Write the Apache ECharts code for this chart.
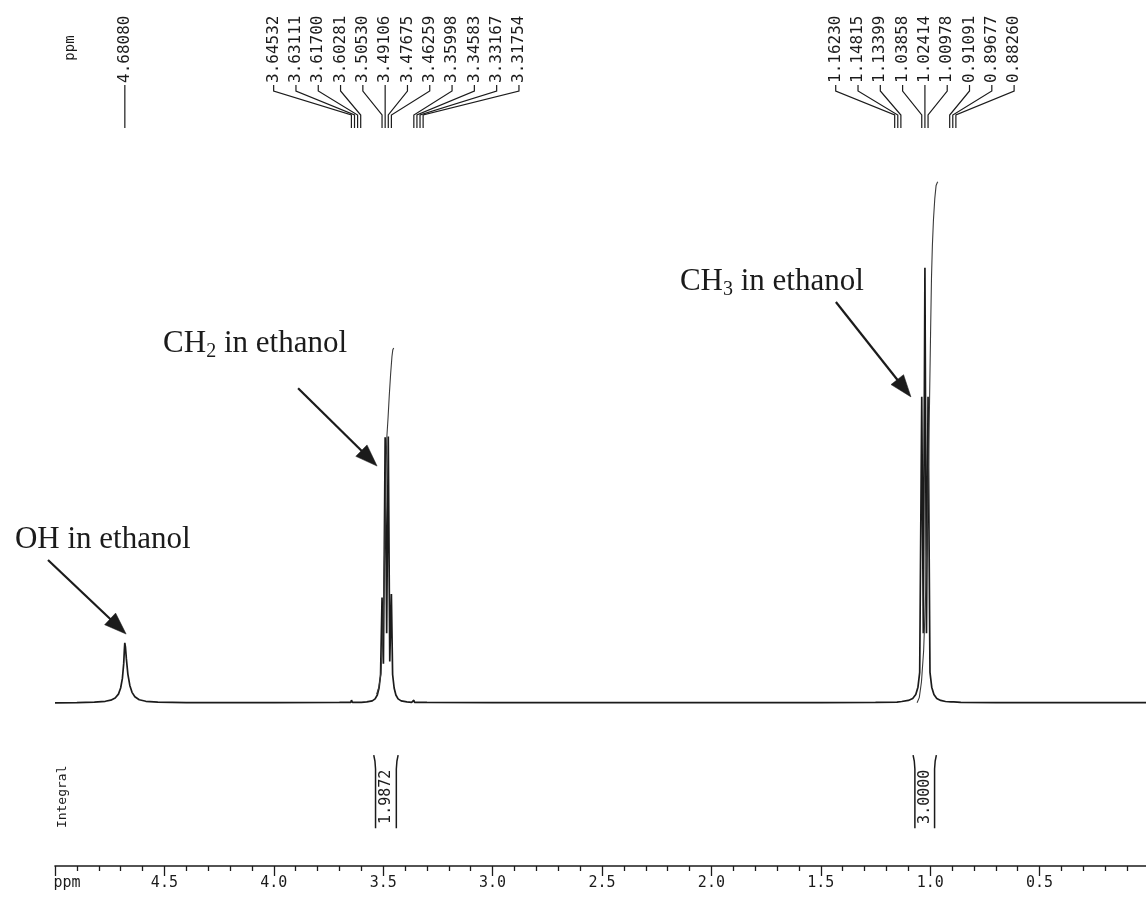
<!DOCTYPE html>
<html>
<head>
<meta charset="utf-8">
<title>1H NMR spectrum of ethanol</title>
<script src="https://cdn.jsdelivr.net/npm/echarts@6/dist/echarts.min.js"></script>
<style>
  html, body { margin: 0; padding: 0; background: #ffffff; }
  #chart { width: 1146px; height: 902px; }
</style>
</head>
<body>
<div id="chart"></div>
<script>
// ---- Spectrum trace: [chemical shift (ppm), intensity] ----
const spectrum = [
  [5.000, 0.00], [4.900, 0.05], [4.820, 0.15], [4.770, 0.35], [4.745, 0.60],
  [4.725, 1.10], [4.710, 2.00], [4.700, 3.40], [4.692, 5.60], [4.686, 9.00],
  [4.683, 12.2], [4.681, 13.8], [4.678, 12.8], [4.674, 10.2], [4.667, 6.60],
  [4.658, 4.00], [4.648, 2.40], [4.635, 1.40], [4.615, 0.70], [4.585, 0.35],
  [4.530, 0.15], [4.400, 0.05], [4.000, 0.05], [3.700, 0.08],
  [3.648, 0.12], [3.645, 0.60], [3.641, 0.12], [3.600, 0.12],
  [3.575, 0.20], [3.550, 0.45], [3.537, 0.90], [3.527, 1.80], [3.519, 3.40],
  [3.512, 6.50], [3.5053, 24.2], [3.499, 9.00], [3.4911, 61.0], [3.4841, 16.0],
  [3.4768, 61.2], [3.4700, 9.50], [3.4626, 25.0], [3.457, 6.50], [3.450, 3.40],
  [3.442, 1.80], [3.432, 0.90], [3.418, 0.45], [3.392, 0.20],
  [3.370, 0.12], [3.3625, 0.12], [3.360, 0.60], [3.357, 0.12], [3.300, 0.08],
  [3.000, 0.05], [2.500, 0.05], [2.000, 0.05], [1.500, 0.05], [1.250, 0.10],
  [1.152, 0.15], [1.148, 0.50], [1.144, 0.18],
  [1.130, 0.30], [1.100, 0.55], [1.080, 1.00], [1.066, 1.90], [1.056, 3.60],
  [1.048, 7.00], [1.0386, 70.3], [1.0315, 16.0], [1.0241, 100], [1.0170, 16.0],
  [1.0098, 70.3], [1.0010, 7.00], [0.993, 3.60], [0.983, 1.90], [0.970, 1.00],
  [0.952, 0.55], [0.930, 0.30], [0.905, 0.20], [0.8975, 0.60], [0.893, 0.20],
  [0.860, 0.10], [0.700, 0.05], [0.300, 0.05], [0.000, 0.05]
];

// ---- Peak picking labels ----
const ohPeakLabels  = ['4.68080'];
const ch2PeakLabels = ['3.64532', '3.63111', '3.61700', '3.60281', '3.50530', '3.49106',
                       '3.47675', '3.46259', '3.35998', '3.34583', '3.33167', '3.31754'];
const ch3PeakLabels = ['1.16230', '1.14815', '1.13399', '1.03858', '1.02414', '1.00978',
                       '0.91091', '0.89677', '0.88260'];

// ---- Integrals ----
const integralValues  = [1.9872, 3.0000];
const integralRegions = [[3.535, 3.440], [1.070, 0.980]];
const integralOffsets = [2.0, 0.0];
// running fraction of each integral vs. shift
const ch2IntegralShape = [
  [3.530, 0.00], [3.520, 0.02], [3.510, 0.06], [3.503, 0.15], [3.497, 0.30],
  [3.491, 0.50], [3.487, 0.64], [3.484, 0.74], [3.478, 0.80], [3.472, 0.87],
  [3.466, 0.93], [3.460, 0.98], [3.456, 1.00], [3.452, 1.005]
];
const ch3IntegralShape = [
  [1.060, 0.00], [1.050, 0.01], [1.040, 0.04], [1.030, 0.10], [1.020, 0.22],
  [1.010, 0.40], [1.003, 0.58], [0.998, 0.72], [0.994, 0.82], [0.990, 0.88],
  [0.985, 0.93], [0.979, 0.97], [0.973, 0.995], [0.968, 1.00], [0.965, 1.002]
];

// ---- Axis tick labels ----
const tickValues = [5.0, 4.5, 4.0, 3.5, 3.0, 2.5, 2.0, 1.5, 1.0, 0.5, 0.0];
const tickLabels = ['ppm', '4.5', '4.0', '3.5', '3.0', '2.5', '2.0', '1.5', '1.0', '0.5', ''];

// ---- Annotations: text anchor (left edge, middle) and arrow tail/tip ----
const annotationTexts = [
  { text: '{m|OH in ethanol}',      at: [5.183, 37.4] },
  { text: '{m|CH}{s|2}{m| in ethanol}', at: [4.506, 82.5] },
  { text: '{m|CH}{s|3}{m| in ethanol}', at: [2.144, 96.7] }
];
const annotationArrows = [
  { from: [5.032, 32.8], to: [4.675, 15.8] },
  { from: [3.889, 72.3], to: [3.528, 54.4] },
  { from: [1.431, 92.1], to: [1.088, 70.3] }
];

// ---- Drawing ----
const INK = '#1b1b1b';
const MONO = '"DejaVu Sans Mono", monospace';
const SERIF = '"Liberation Serif", "Times New Roman", serif';
const INTEGRAL_SCALE = 39.83;   // intensity units per integral unit

function integralCurve(shape, value, offset) {
  return shape.map(p => [p[0], offset + p[1] * value * INTEGRAL_SCALE]);
}

const chart = echarts.init(document.getElementById('chart'), null, { renderer: 'canvas' });

const option = {
  backgroundColor: '#ffffff',
  animation: false,
  grid: { left: 55, width: 1094, top: 0, bottom: 36, containLabel: false, outerBoundsMode: 'none' },
  xAxis: {
    type: 'value',
    min: 0, max: 5, interval: 0.5,
    inverse: true,
    splitLine: { show: false },
    axisLine: { show: true, onZero: false, lineStyle: { color: INK, width: 1.6 } },
    axisTick: { show: true, length: 10, lineStyle: { color: INK, width: 1.3 } },
    minorTick: { show: true, splitNumber: 5, length: 5, lineStyle: { color: INK, width: 1.3 } },
    minorSplitLine: { show: false },
    axisLabel: {
      show: true,
      margin: 10,
      color: INK,
      fontFamily: MONO,
      fontSize: 15,
      showMinLabel: true,
      showMaxLabel: true,
      formatter: function (v) {
        const i = tickValues.findIndex(t => Math.abs(t - v) < 1e-6);
        if (i < 0) return '';
        return i === 0 ? '{p|' + tickLabels[i] + '}' : tickLabels[i];
      },
      rich: { p: { fontFamily: MONO, fontSize: 15, color: INK, padding: [0, 0, 0, 24] } }
    }
  },
  yAxis: { type: 'value', min: -37.5, max: 161.5, show: false, splitLine: { show: false } },
  series: [
    {
      name: 'spectrum', type: 'line', data: spectrum, showSymbol: false, symbol: 'none',
      lineStyle: { color: INK, width: 1.7 }, z: 3
    },
    {
      name: 'integral CH2', type: 'line',
      data: integralCurve(ch2IntegralShape, integralValues[0], integralOffsets[0]),
      showSymbol: false, symbol: 'none', smooth: false,
      lineStyle: { color: '#3a3a3a', width: 1.1 }, z: 4
    },
    {
      name: 'integral CH3', type: 'line',
      data: integralCurve(ch3IntegralShape, integralValues[1], integralOffsets[1]),
      showSymbol: false, symbol: 'none', smooth: false,
      lineStyle: { color: '#3a3a3a', width: 1.1 }, z: 4
    }
  ]
};
chart.setOption(option);

// ---- Decorations placed through the axes' pixel conversion ----
const P = (ppm, v) => chart.convertToPixel({ gridIndex: 0 }, [ppm, v]);
const g = [];

// peak labels along the top with leader lines down to each peak's shift
const LABEL_STEP = 22.3, LABEL_FOOT = 83, BEND_Y = 91, JOIN_Y = 115, LEADER_END = 128;
function peakGroup(labels, anchorIndex) {
  const shifts = labels.map(parseFloat);
  const ax = P(shifts[anchorIndex], 0)[0];
  labels.forEach((t, i) => {
    const lx = ax + (i - anchorIndex) * LABEL_STEP;
    const px = P(shifts[i], 0)[0];
    g.push({
      type: 'text', x: lx, y: LABEL_FOOT, rotation: Math.PI / 2, silent: true, z: 50,
      style: { text: t, font: '16px ' + MONO, fill: INK, align: 'left', verticalAlign: 'middle',
               textAlign: 'left', textVerticalAlign: 'middle' }
    });
    g.push({
      type: 'polyline', silent: true, z: 50,
      shape: { points: [[lx, LABEL_FOOT + 2], [lx, BEND_Y], [px, JOIN_Y], [px, LEADER_END]] },
      style: { stroke: INK, lineWidth: 1.2, fill: null }
    });
  });
}
peakGroup(ohPeakLabels, 0);
peakGroup(ch2PeakLabels, 5);
peakGroup(ch3PeakLabels, 4);

// rotated unit label at the top-left
g.push({
  type: 'text', x: 70, y: 48, rotation: Math.PI / 2, silent: true, z: 50,
  style: { text: 'ppm', font: '14px ' + MONO, fill: INK, align: 'center', verticalAlign: 'middle',
           textAlign: 'center', textVerticalAlign: 'middle' }
});

// integral strip
const BRACKET_TOP = -12.0, BRACKET_BOTTOM = -28.8, BRACKET_LABEL = -21.6;
g.push({
  type: 'text', x: 63, y: P(5, BRACKET_LABEL)[1], rotation: Math.PI / 2, silent: true, z: 50,
  style: { text: 'Integral', font: '13px ' + MONO, fill: INK, align: 'center', verticalAlign: 'middle',
           textAlign: 'center', textVerticalAlign: 'middle' }
});
integralRegions.forEach((r, i) => {
  const top = P(r[0], BRACKET_TOP), bot = P(r[0], BRACKET_BOTTOM);
  const xl = P(r[0], 0)[0], xr = P(r[1], 0)[0];
  g.push({
    type: 'polyline', silent: true, z: 50,
    shape: { points: [[xl - 1.8, top[1]], [xl - 0.6, top[1] + 6], [xl, top[1] + 14], [xl, bot[1]]] },
    style: { stroke: INK, lineWidth: 1.5, fill: null }
  });
  g.push({
    type: 'polyline', silent: true, z: 50,
    shape: { points: [[xr + 1.8, top[1]], [xr + 0.6, top[1] + 6], [xr, top[1] + 14], [xr, bot[1]]] },
    style: { stroke: INK, lineWidth: 1.5, fill: null }
  });
  const lp = P((r[0] + r[1]) / 2, BRACKET_LABEL);
  g.push({
    type: 'text', x: lp[0], y: lp[1], rotation: Math.PI / 2, silent: true, z: 50,
    style: { text: integralValues[i].toFixed(4), font: '15px ' + MONO, fill: INK,
             align: 'center', verticalAlign: 'middle', textAlign: 'center', textVerticalAlign: 'middle' }
  });
});

// text annotations
annotationTexts.forEach(a => {
  const p = P(a.at[0], a.at[1]);
  g.push({
    type: 'text', x: p[0], y: p[1], silent: true, z: 60,
    style: {
      text: a.text, align: 'left', verticalAlign: 'middle', textAlign: 'left', textVerticalAlign: 'middle',
      fill: INK,
      rich: {
        m: { fontFamily: SERIF, fontSize: 31, lineHeight: 36, fill: INK, verticalAlign: 'middle' },
        s: { fontFamily: SERIF, fontSize: 20, lineHeight: 20, fill: INK, verticalAlign: 'bottom' }
      }
    }
  });
});

// arrows
annotationArrows.forEach(a => {
  const s = P(a.from[0], a.from[1]), e = P(a.to[0], a.to[1]);
  const dx = e[0] - s[0], dy = e[1] - s[1], len = Math.hypot(dx, dy);
  const ux = dx / len, uy = dy / len, hl = 22, hw = 8;
  const bx = e[0] - ux * hl, by = e[1] - uy * hl;
  g.push({
    type: 'line', silent: true, z: 60,
    shape: { x1: s[0], y1: s[1], x2: bx + ux * 2, y2: by + uy * 2 },
    style: { stroke: INK, lineWidth: 2.2 }
  });
  g.push({
    type: 'polygon', silent: true, z: 60,
    shape: { points: [[e[0], e[1]], [bx - uy * hw, by + ux * hw], [bx + uy * hw, by - ux * hw]] },
    style: { fill: INK, stroke: INK, lineWidth: 0.5 }
  });
});

chart.setOption({ graphic: { elements: g } });
</script>
</body>
</html>
